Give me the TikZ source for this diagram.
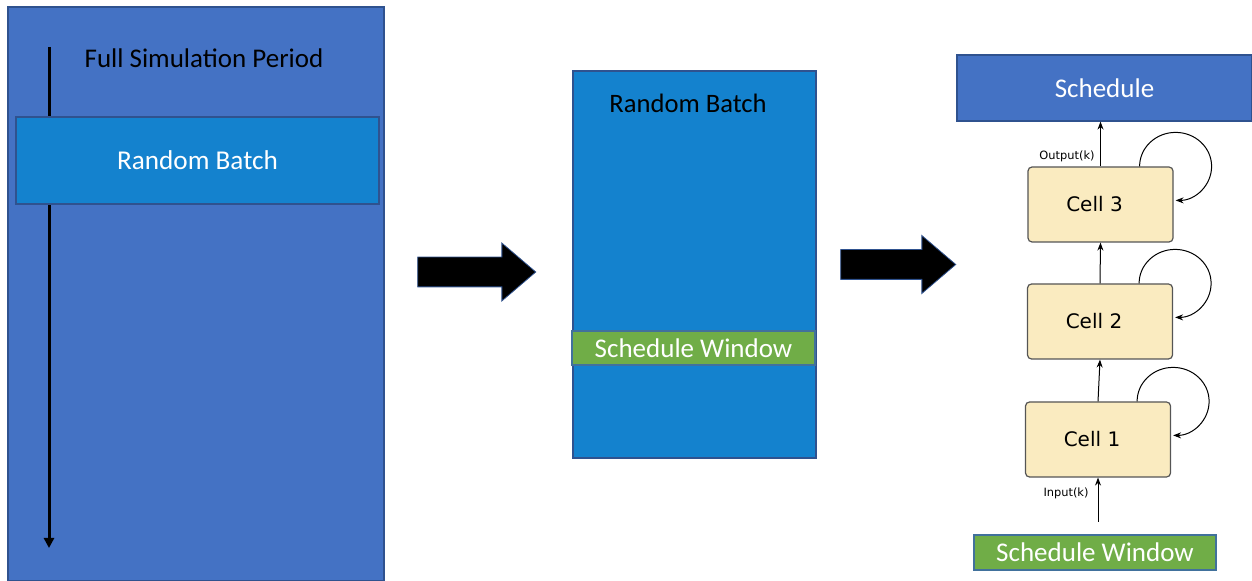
\documentclass[tikz,border=0pt]{standalone}
\usepackage{fontspec}
\setmainfont{Carlito}
\newfontfamily\cellfont{DejaVu Sans}
\usetikzlibrary{arrows.meta,shapes.arrows}
\definecolor{periodblue}{HTML}{4472C4}
\definecolor{batchblue}{HTML}{1482CE}
\definecolor{edgeblue}{HTML}{2F528F}
\definecolor{windowgreen}{HTML}{70AD47}
\definecolor{windowedge}{HTML}{41719C}
\definecolor{cellfill}{HTML}{FAEBC0}
\definecolor{celledge}{HTML}{555555}

\begin{document}
\begin{tikzpicture}[x=0.5pt,y=-0.5pt,
  panel/.style={draw=edgeblue,line width=0.6pt,inner sep=0pt},
  window/.style={panel,fill=windowgreen,draw=windowedge,text=white,font=\fontsize{13.5}{14}\selectfont},
  cellbox/.style={draw=celledge,fill=cellfill,rounded corners=2pt,line width=0.6pt,
    minimum width=72.5pt,minimum height=37.5pt,font=\cellfont\fontsize{10}{12}\selectfont},
  flow/.style={-{Stealth[length=4pt,width=3pt]},line width=0.5pt},
  loop/.style={flow},
  blockarrow/.style={single arrow,fill=black,draw=edgeblue,line width=0.4pt,inner sep=0pt,
    minimum height=59pt,single arrow head extend=7pt,single arrow tip angle=81,
    text height=14.5pt,text depth=0pt,text width=0pt},
  tiny/.style={font=\cellfont\fontsize{5.7}{6}\selectfont,inner sep=0pt}]
\useasboundingbox (0,0) rectangle (1252,581);
% full simulation period
\node[panel,fill=periodblue,minimum width=188pt,minimum height=287pt] (period) at (196,294) {};
\coordinate (tstart) at (49,47);
\coordinate (tend) at (49,548);
\draw[-{Triangle[length=5pt,width=5pt]},line width=1.5pt] (tstart) -- (tend);
\node[font=\fontsize{13.5}{14}\selectfont] (periodlbl) at (204,58) {Full Simulation Period};
\node[panel,fill=batchblue,minimum width=181.5pt,minimum height=43.5pt,text=white,
  font=\fontsize{13.6}{14}\selectfont] (batch) at (197.5,160.5) {Random Batch};
% block arrows
\node[blockarrow] (step1) at (468,272) {};
\node[blockarrow,minimum height=57.5pt] (step2) at (889.5,264.5) {};
% random batch with window
\node[panel,fill=batchblue,minimum width=121.5pt,minimum height=193.5pt] (batch2) at (694.5,264.5) {};
\node[font=\fontsize{13.3}{14}\selectfont] (batch2lbl) at (688,103) {Random Batch};
\node[window,minimum width=121.5pt,minimum height=17pt] (win) at (693.5,348) {Schedule Window};
% recurrent cells
\node[panel,fill=periodblue,minimum width=147.5pt,minimum height=33pt,text=white,
  font=\fontsize{13.5}{14}\selectfont] (sched) at (1104.5,88) {Schedule};
\node[cellbox] (c3) at (1100.5,204.5) {Cell 3\kern6pt};
\node[cellbox] (c2) at (1100,321.5) {Cell 2\kern6pt};
\node[cellbox] (c1) at (1098,439.5) {Cell 1\kern6pt};
\node[window,minimum width=121pt,minimum height=17.5pt] (win2) at (1095,552.5) {Schedule Window};
\coordinate (inp) at (1098,522);
\draw[flow] (inp) -- (c1.south);
\draw[flow] (c1.north) -- (c2.south);
\draw[flow] (c2.north) -- (c3.south);
\draw[flow] (c3.north) -- (c3.north |- sched.south);
\node[tiny] (outlbl) at (1067,156) {Output(k)};
\node[tiny] (inlbl) at (1066,493) {Input(k)};
\foreach \c in {c1,c2,c3}
  \draw[loop] ([xshift=-17pt]\c.north east) arc[start angle=180,end angle=-90,x radius=18pt,y radius=17pt];
\end{tikzpicture}
\end{document}
